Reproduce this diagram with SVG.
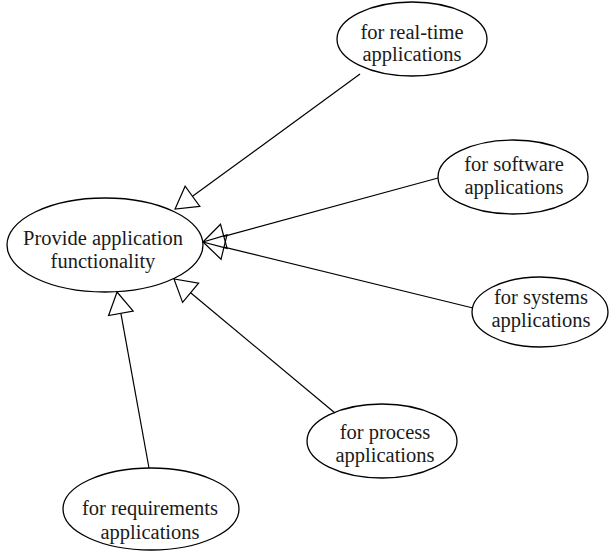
<svg xmlns="http://www.w3.org/2000/svg" width="611" height="551" viewBox="0 0 611 551">
  <defs>
    <style>
      .uc { fill: #ffffff; stroke: #000000; stroke-width: 1.3; }
      .lbl { font-family: "Liberation Serif", "Times New Roman", serif; font-size: 20.5px; fill: #1a1a1a; text-anchor: middle; }
      .gen { stroke: #000000; stroke-width: 1.2; fill: none; marker-end: url(#hollow); }
    </style>
    <!-- hollow triangle for generalization: base sits at the line end, tip points onward -->
    <marker id="hollow" markerUnits="userSpaceOnUse" markerWidth="30" markerHeight="30" refX="0" refY="0" viewBox="-2 -15 28 30" orient="auto" overflow="visible">
      <path d="M0,-12.5 L21.6,0 L0,12.5 Z" fill="none" stroke="#000000" stroke-width="1.2" stroke-linejoin="miter"/>
    </marker>
  </defs>

  <rect width="611" height="551" fill="#ffffff"/>

  <g id="main">
    <ellipse class="uc" cx="105" cy="245" rx="98" ry="47"/>
    <text class="lbl" x="103" y="245">Provide application</text>
    <text class="lbl" x="103" y="268">functionality</text>
  </g>

  <g id="realtime">
    <ellipse class="uc" cx="412" cy="39" rx="75" ry="37"/>
    <text class="lbl" x="412" y="39">for real-time</text>
    <text class="lbl" x="412" y="61">applications</text>
  </g>

  <g id="software">
    <ellipse class="uc" cx="513" cy="177" rx="75" ry="37"/>
    <text class="lbl" x="514" y="171">for software</text>
    <text class="lbl" x="514" y="194">applications</text>
  </g>

  <g id="systems">
    <ellipse class="uc" cx="540" cy="312" rx="68" ry="35"/>
    <text class="lbl" x="541" y="304">for systems</text>
    <text class="lbl" x="541" y="327">applications</text>
  </g>

  <g id="process">
    <ellipse class="uc" cx="382" cy="441" rx="75" ry="37"/>
    <text class="lbl" x="385" y="439">for process</text>
    <text class="lbl" x="385" y="462">applications</text>
  </g>

  <g id="requirements">
    <ellipse class="uc" cx="151" cy="509" rx="88" ry="41"/>
    <text class="lbl" x="150" y="515">for requirements</text>
    <text class="lbl" x="150" y="539">applications</text>
  </g>

  <g id="connectors">
    <line class="gen" x1="360" y1="74" x2="192.5" y2="196.3"/>
    <line class="gen" x1="438" y1="178" x2="223.8" y2="236.3"/>
    <line class="gen" x1="473" y1="308" x2="224" y2="247.1"/>
    <line class="gen" x1="335" y1="413" x2="190.6" y2="292.8"/>
    <line class="gen" x1="149" y1="468" x2="120.9" y2="313.3"/>
  </g>
</svg>
